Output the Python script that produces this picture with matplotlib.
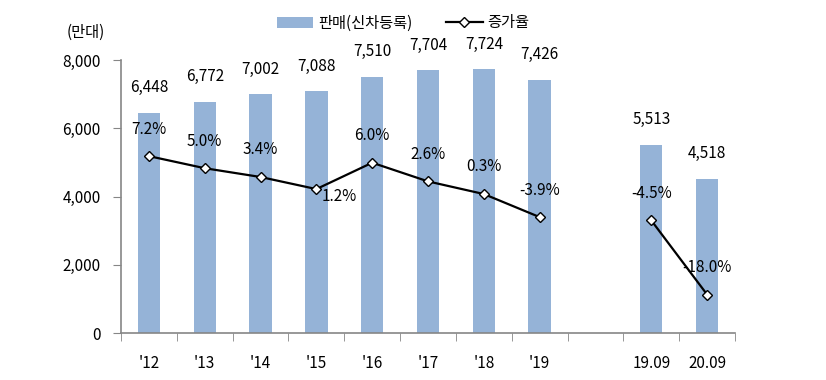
import numpy as np
import matplotlib
matplotlib.use('Agg')
import matplotlib.pyplot as plt
from matplotlib.patches import Patch
from matplotlib.lines import Line2D

plt.rcParams['font.family'] = ['Noto Sans CJK KR', 'DejaVu Sans']

#===============================================================================
categories = ["'12", "'13", "'14", "'15", "'16", "'17", "'18", "'19", "", "19.09", "20.09"]
sales      = [6448, 6772, 7002, 7088, 7510, 7704, 7724, 7426, np.nan, 5513, 4518]
growth     = [7.2, 5.0, 3.4, 1.2, 6.0, 2.6, 0.3, -3.9, np.nan, -4.5, -18.0]
sales_name  = "판매(신차등록)"
growth_name = "증가율"
unit_text   = "(만대)"
#===============================================================================
bar_color  = "#95B3D7"
axis_color = "#868686"
fs = 11

fig = plt.figure(figsize=(8.26, 3.80), dpi=100)
ax = fig.add_axes([121/826, 1-333/380, (735-121)/826, (333-60)/380])
ax2 = ax.twinx()

x = np.arange(len(categories))
sales_arr  = np.array(sales, dtype=float)
growth_arr = np.array(growth, dtype=float)

# bars
ok = ~np.isnan(sales_arr)
ax.bar(x[ok], sales_arr[ok], width=0.4, color=bar_color, zorder=2)
for xi, v in zip(x[ok], sales_arr[ok]):
    ax.annotate("{:,}".format(int(v)), (xi, v), xytext=(0, 18), textcoords='offset points',
                ha='center', va='center', fontsize=fs)

ax.set_xlim(-0.5, len(categories) - 0.5)
ax.set_ylim(0, 8000)
ax.set_yticks([0, 2000, 4000, 6000, 8000])
ax.set_yticklabels(["{:,}".format(t) for t in [0, 2000, 4000, 6000, 8000]], fontsize=fs)
ax.set_xticks(x)
ax.set_xticklabels(categories, fontsize=fs)
ax.set_xticks(np.arange(-0.5, len(categories)), minor=True)
ax.tick_params(axis='x', which='major', length=0, pad=16)
ax.tick_params(axis='x', which='minor', length=6, color=axis_color, direction='out')
ax.tick_params(axis='y', length=6, color=axis_color, direction='out', pad=8.5)
for s in ['top', 'right']:
    ax.spines[s].set_visible(False)
for s in ['left', 'bottom']:
    ax.spines[s].set_color(axis_color)
    ax.spines[s].set_linewidth(1.2)

# growth line on hidden secondary axis
ax2.plot(x, growth_arr, color='black', linewidth=1.6, marker='D', markersize=5.5,
         markerfacecolor='white', markeredgecolor='black', markeredgewidth=1.0, zorder=3)
ax2.set_ylim(-25, 24.7)
ax2.set_yticks([])
for s in ax2.spines.values():
    s.set_visible(False)
for xi, g in zip(x, growth_arr):
    if np.isnan(g):
        continue
    off = (0, 19.5)
    if g == 1.2:
        off = (16.5, -5)
    ax2.annotate("{:.1f}%".format(g), (xi, g), xytext=off, textcoords='offset points',
                 ha='center', va='center', fontsize=fs)

# unit text and legend
fig.text(86/826, 1-32/380, unit_text, ha='center', va='center', fontsize=fs)
handles = [Patch(facecolor=bar_color, edgecolor='none'),
           Line2D([], [], color='black', linewidth=1.6, marker='D', markersize=5.5,
                  markerfacecolor='white', markeredgecolor='black')]
fig.legend(handles, [sales_name, growth_name], loc='center', bbox_to_anchor=(403/826, 1-23/380),
           ncol=2, frameon=False, fontsize=fs, handlelength=2.4, handleheight=0.75,
           handletextpad=0.3, columnspacing=2.2)

fig.savefig("out.png", dpi=100)
